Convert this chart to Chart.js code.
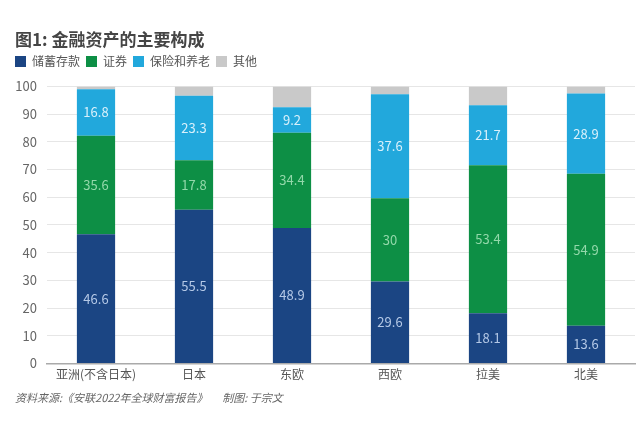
<!DOCTYPE html>
<html>
<head>
<meta charset="utf-8">
<script src="https://cdn.jsdelivr.net/npm/chart.js@4"></script>
<style>
  html, body { margin: 0; padding: 0; background: #fff; }
  #wrap { width: 640px; height: 427px; }
</style>
</head>
<body>
<div id="wrap"><canvas id="barChart"></canvas></div>
<script>
const regions = ['亚洲(不含日本)', '日本', '东欧', '西欧', '拉美', '北美'];
const savings = [46.6, 55.5, 48.9, 29.6, 18.1, 13.6];
const securities = [35.6, 17.8, 34.4, 30, 53.4, 54.9];
const pension = [16.8, 23.3, 9.2, 37.6, 21.7, 28.9];
const other = [1.0, 3.4, 7.5, 2.8, 6.8, 2.6];
const yTicks = [0, 10, 20, 30, 40, 50, 60, 70, 80, 90, 100];

const fontFamily = '"Noto Sans CJK SC", "Noto Sans", sans-serif';

// draw the numbers inside each bar segment (not for 其他)
const barLabels = {
    id: 'barLabels',
    afterDatasetsDraw(chart) {
        const ctx = chart.ctx;
        ctx.save();
        ctx.font = '13px ' + fontFamily;
        ctx.textAlign = 'center';
        ctx.textBaseline = 'middle';
        chart.data.datasets.forEach((ds, i) => {
            if (!ds.labelColor) return;
            const meta = chart.getDatasetMeta(i);
            meta.data.forEach((bar, j) => {
                const mid = (bar.y + bar.base) / 2;
                ctx.fillStyle = ds.labelColor;
                ctx.fillText(String(ds.data[j]), bar.x, mid);
            });
        });
        ctx.restore();
    }
};

// more room under the legend, and pull it flush with the title
const legendSpacing = {
    id: 'legendSpacing',
    beforeInit(chart) {
        const origFit = chart.legend.fit;
        chart.legend.fit = function () {
            origFit.bind(chart.legend)();
            this.height += 9;
        };
    },
    afterLayout(chart) {
        chart.legend.left -= 6;
    }
};

const ctx = document.getElementById('barChart').getContext('2d');
const barChart = new Chart(ctx, {
    type: 'bar',
    data: {
        labels: regions,
        datasets: [
            { label: '储蓄存款', data: savings, backgroundColor: '#1b4583', labelColor: '#b4c8e6' },
            { label: '证券', data: securities, backgroundColor: '#0d8f45', labelColor: '#93d8aa' },
            { label: '保险和养老', data: pension, backgroundColor: '#22a8dc', labelColor: '#d8f0fb' },
            { label: '其他', data: other, backgroundColor: '#c9c9c9' }
        ]
    },
    options: {
        responsive: true,
        maintainAspectRatio: false,
        animation: false,
        layout: { padding: { left: 15, right: 5, top: 29, bottom: 0 } },
        datasets: { bar: { categoryPercentage: 1, barPercentage: 0.39 } },
        scales: {
            x: {
                stacked: true,
                grid: { display: false, drawTicks: false },
                border: { color: '#aaaaaa', width: 1.5 },
                ticks: { color: '#555', padding: 4, font: { size: 12, family: fontFamily } }
            },
            y: {
                stacked: true,
                min: 0,
                max: 100,
                afterBuildTicks: (axis) => { axis.ticks = yTicks.map(v => ({ value: v })); },
                afterFit: (axis) => { axis.width = 32; },
                grid: { color: '#e6e6e6', drawTicks: false },
                border: { display: false },
                ticks: { color: '#666', padding: 10, font: { size: 13, family: fontFamily } }
            }
        },
        plugins: {
            title: {
                display: true,
                text: '图1: 金融资产的主要构成',
                align: 'start',
                color: '#454545',
                font: { size: 17, weight: 'bold', family: fontFamily },
                padding: { top: 0, bottom: 0 }
            },
            subtitle: {
                display: true,
                position: 'bottom',
                align: 'start',
                text: '资料来源:《安联2022年全球财富报告》      制图: 于宗文',
                color: '#666',
                font: { size: 11, style: 'italic', family: fontFamily },
                padding: { top: 5, bottom: 23 }
            },
            legend: {
                align: 'start',
                labels: {
                    boxWidth: 11,
                    boxHeight: 11,
                    padding: 6,
                    color: '#555',
                    font: { size: 12, family: fontFamily }
                }
            },
            tooltip: { enabled: false }
        }
    },
    plugins: [barLabels, legendSpacing]
});
</script>
</body>
</html>
